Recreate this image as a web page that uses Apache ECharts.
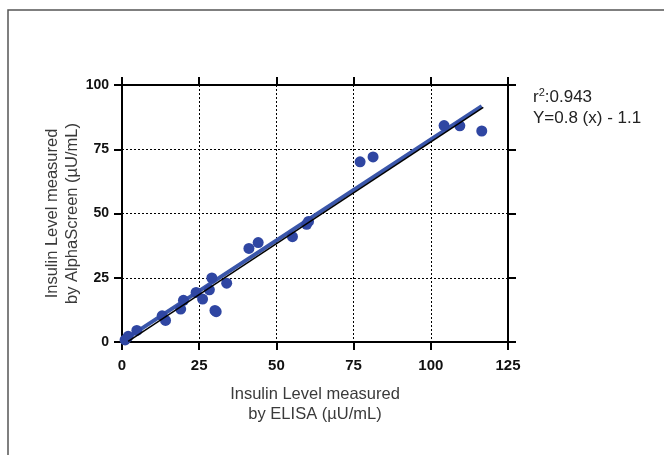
<!DOCTYPE html>
<html>
<head>
<meta charset="utf-8">
<script src="https://cdn.jsdelivr.net/npm/echarts@6/dist/echarts.min.js"></script>
<style>html,body{margin:0;padding:0;background:#fff;}#c{width:668px;height:455px;}</style>
</head>
<body>
<div id="c"></div>
<script>
var xTicks = [0, 25, 50, 75, 100, 125];
var yTicks = [0, 25, 50, 75, 100];
var elisa = [1.0, 2.0, 4.8, 13.0, 14.1, 19.0, 19.9, 24.0, 26.1, 28.3, 29.1, 30.1, 30.5, 33.9, 41.1, 44.1, 55.2, 59.8, 60.4, 77.1, 81.3, 104.3, 109.4, 116.5];
var alphaScreen = [0.8, 2.2, 4.5, 10.2, 8.4, 12.8, 16.2, 19.3, 16.7, 20.3, 24.9, 12.3, 11.8, 22.9, 36.4, 38.7, 41.0, 45.8, 46.9, 70.1, 72.0, 84.2, 84.1, 82.1];
var fitBlueX = [1.0, 116.5];
var fitBlueY = [1.0, 91.8];
var fitBlackX = [2.0, 117.0];
var fitBlackY = [0.2, 91.3];
var annotations = ['r{sup|2}:0.943', 'Y=0.8 (x) - 1.1'];

var chart = echarts.init(document.getElementById('c'));
var labelFont = {color: '#111', fontFamily: 'Liberation Sans, Arial, sans-serif', fontWeight: 'bold', fontSize: 14};
var titleFont = {color: '#3a3a3a', fontFamily: 'Liberation Sans, Arial, sans-serif', fontSize: 16.5, lineHeight: 20};
var axLine = {show: true, onZero: false, lineStyle: {color: '#000', width: 2}};
var axTick = {show: true, length: 8, lineStyle: {color: '#000', width: 2}};
function zip(a, b) { return a.map(function (v, i) { return [v, b[i]]; }); }

chart.setOption({
  animation: false,
  backgroundColor: '#fff',
  grid: {left: 122, right: 160, top: 85, bottom: 113},
  xAxis: [{
    type: 'value', min: xTicks[0], max: xTicks[xTicks.length - 1], interval: 25,
    axisLine: axLine, axisTick: axTick,
    axisLabel: Object.assign({margin: 16}, labelFont, {fontSize: 15}),
    splitLine: {show: true, lineStyle: {color: '#000', width: 1, type: [2, 2]}},
    name: 'Insulin Level measured\nby ELISA (µU/mL)', nameLocation: 'middle', nameGap: 42,
    nameTextStyle: titleFont
  }, {
    type: 'value', position: 'top', min: xTicks[0], max: xTicks[xTicks.length - 1], interval: 25,
    axisLine: axLine, axisTick: axTick, axisLabel: {show: false}, splitLine: {show: false}
  }],
  yAxis: [{
    type: 'value', min: yTicks[0], max: yTicks[yTicks.length - 1], interval: 25,
    axisLine: axLine, axisTick: axTick,
    axisLabel: Object.assign({margin: 13}, labelFont),
    splitLine: {show: true, lineStyle: {color: '#000', width: 1, type: [2, 2]}},
    name: 'Insulin Level measured\nby AlphaScreen (µU/mL)', nameLocation: 'middle', nameGap: 40,
    nameMoveOverlap: false,
    nameTextStyle: titleFont
  }, {
    type: 'value', position: 'right', min: yTicks[0], max: yTicks[yTicks.length - 1], interval: 25,
    axisLine: axLine, axisTick: axTick, axisLabel: {show: false}, splitLine: {show: false}
  }],
  series: [{
    type: 'line', data: zip(fitBlueX, fitBlueY), symbol: 'none',
    lineStyle: {color: '#3a56aa', width: 4}, z: 3
  }, {
    type: 'scatter', data: zip(elisa, alphaScreen), symbolSize: 11,
    itemStyle: {color: '#2f46a2', opacity: 1}, z: 4
  }, {
    type: 'line', data: zip(fitBlackX, fitBlackY), symbol: 'none',
    lineStyle: {color: '#000', width: 1.5}, z: 5
  }],
  graphic: [{
    type: 'polyline', shape: {points: [[8, 455], [8, 10], [664, 10]]},
    style: {stroke: '#555', lineWidth: 1.5, fill: null}
  }, {
    type: 'text', left: 533, top: 87,
    style: {
      text: annotations[0] + '\n' + annotations[1],
      fontFamily: 'Liberation Sans, Arial, sans-serif', fontSize: 17, lineHeight: 21, fill: '#222',
      rich: {sup: {fontSize: 11, verticalAlign: 'top', padding: [0, 0, 9, 0], fill: '#222'}}
    }
  }]
});
</script>
</body>
</html>
